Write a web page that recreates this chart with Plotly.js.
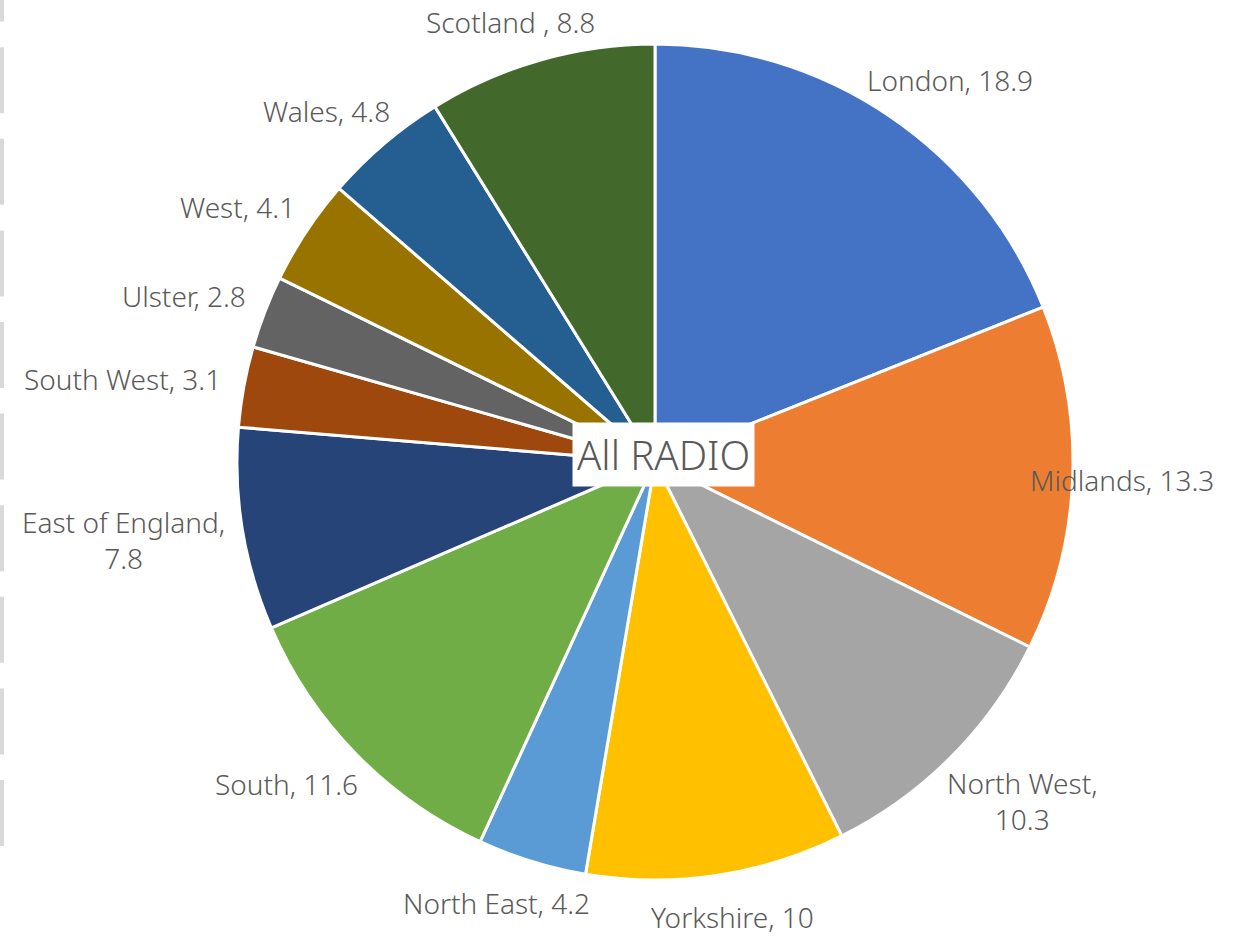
<!DOCTYPE html>
<html>
<head>
<meta charset="utf-8">
<script src="https://cdn.plot.ly/plotly-3.0.1.min.js"></script>
<style>html,body{margin:0;padding:0;background:#fff;}#chart{width:1236px;height:937px;}</style>
</head>
<body>
<div id="chart"></div>
<script>
// ---- data ----
const regions = ['London','Midlands','North West','Yorkshire','North East','South','East of England','South West','Ulster','West','Wales','Scotland'];
const shares = [18.9, 13.3, 10.3, 10, 4.2, 11.6, 7.8, 3.1, 2.8, 4.1, 4.8, 8.8];
const labelText = ['London, 18.9','Midlands, 13.3','North West,<br>10.3','Yorkshire, 10','North East, 4.2','South, 11.6','East of England,<br>7.8','South West, 3.1','Ulster, 2.8','West, 4.1','Wales, 4.8','Scotland , 8.8'];
const sliceColors = ['#4472C4','#ED7D31','#A5A5A5','#FFC000','#5B9BD5','#70AD47','#264478','#9E480E','#636363','#997300','#255E91','#43682B'];
const centerTitle = 'All RADIO';

// ---- layout geometry ----
const W = 1236, H = 937;
const CX = 655, CY = 462, R = 418;
const FONT = 'Noto Sans';
const FS = 28, LH = 1.32;
const GAP = 25;
const XMIN = 22, XMAX = 1214, YMIN = 4, YMAX = 935;

const ctx = document.createElement('canvas').getContext('2d');
ctx.font = '300 ' + FS + 'px "' + FONT + '"';

const total = shares.reduce((a,b)=>a+b,0);
let cum = 0;
const annotations = [];
shares.forEach((v,i)=>{
  const mid = (cum + v/2)/total*2*Math.PI;
  cum += v;
  const ux = Math.sin(mid), uy = -Math.cos(mid);
  const lines = labelText[i].split('<br>');
  const w = Math.max(...lines.map(s=>ctx.measureText(s).width));
  const h = lines.length*FS*LH;
  let cx = CX + (R+GAP)*ux + w/2*ux;
  let cy = CY + (R+GAP)*uy + h/2*uy;
  cx = Math.min(Math.max(cx, XMIN + w/2), XMAX - w/2);
  cy = Math.min(Math.max(cy, YMIN + h/2), YMAX - h/2);
  annotations.push({
    xref:'paper', yref:'paper', x: cx/W, y: 1 - cy/H,
    xanchor:'center', yanchor:'middle', showarrow:false, align:'center',
    text: labelText[i], font:{family:FONT, size:FS, color:'#595959', weight:300}
  });
});
annotations.push({
  xref:'paper', yref:'paper', x: (CX+9)/W, y: 1 - (CY-8)/H, xanchor:'center', yanchor:'middle',
  showarrow:false, text: centerTitle, bgcolor:'#ffffff', borderpad:4,
  font:{family:FONT, size:40, color:'#595959', weight:300}
});

const trace = {
  type:'pie', labels: regions, values: shares, sort:false, direction:'clockwise', rotation:0,
  marker:{colors: sliceColors, line:{color:'#ffffff', width:3}},
  textinfo:'none', hoverinfo:'label+value', showlegend:false,
  domain:{x:[(CX-R)/W,(CX+R)/W], y:[1-(CY+R)/H, 1-(CY-R)/H]}
};

const layout = {
  width:W, height:H, margin:{l:0,r:0,t:0,b:0}, paper_bgcolor:'#ffffff',
  showlegend:false, annotations: annotations,
  shapes:[{type:'line', xref:'paper', yref:'paper', x0:2/W, x1:2/W, y0:1-846/H, y1:1,
    line:{color:'#D9D9D9', width:4, dash:'66px,25.6px'}}]
};

Plotly.newPlot('chart',[trace],layout,{displayModeBar:false, staticPlot:true});
</script>
</body>
</html>
